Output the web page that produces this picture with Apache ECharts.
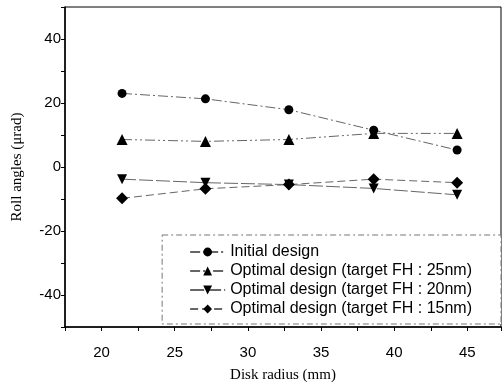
<!DOCTYPE html>
<html>
<head>
<meta charset="utf-8">
<script src="https://cdn.jsdelivr.net/npm/echarts@6/dist/echarts.min.js"></script>
<style>
html, body { margin: 0; padding: 0; background: #fff; }
#chart { width: 502px; height: 385px; }
</style>
</head>
<body>
<div id="chart"></div>
<script>
// disk radius (mm)
var radius = [21.4, 27.1, 32.8, 38.6, 44.3];
var seriesNames = [
    'Initial design',
    'Optimal design (target FH : 25nm)',
    'Optimal design (target FH : 20nm)',
    'Optimal design (target FH : 15nm)'
];
// roll angles (urad)
var initialDesign = [23.0, 21.3, 17.9, 11.5, 5.3];
var optimal25 = [8.6, 8.0, 8.6, 10.5, 10.5];
var optimal20 = [-3.8, -4.9, -5.5, -6.7, -8.7];
var optimal15 = [-9.8, -6.8, -5.5, -3.8, -4.9];

var chart = echarts.init(document.getElementById('chart'));

function pairs(ys) {
    return radius.map(function (x, i) { return [x, ys[i]]; });
}

function makeSeries(name, ys, symbol, size, dash) {
    return {
        name: name,
        type: 'line',
        data: pairs(ys),
        symbol: symbol,
        symbolSize: size,
        itemStyle: { color: '#000' },
        lineStyle: { color: '#666', width: 1, type: dash },
        emphasis: { disabled: true },
        animation: false
    };
}

var option = {
    backgroundColor: '#fff',
    grid: {
        left: 65, right: 1, top: 7, bottom: 58,
        outerBoundsMode: 'none',
        containLabel: false,
        show: true, borderColor: '#000', borderWidth: 1
    },
    legend: {
        right: 1,
        top: 235,
        orient: 'vertical',
        itemWidth: 35,
        itemHeight: 11,
        itemGap: 3,
        padding: [9, 29, 7, 27],
        borderColor: '#777',
        borderWidth: 1,
        borderType: [6, 3, 2, 3],
        backgroundColor: '#fff',
        textStyle: { fontFamily: 'Liberation Sans, Arial, sans-serif', fontSize: 16, color: '#000' },
        data: seriesNames
    },
    xAxis: {
        type: 'value',
        min: 17.5,
        max: 47.3,
        interval: 2.5,
        name: 'Disk radius (mm)',
        nameLocation: 'middle',
        nameGap: 41,
        nameTextStyle: { fontFamily: 'Liberation Serif, Times New Roman, serif', fontSize: 15, color: '#000' },
        axisLine: { show: true, onZero: false, lineStyle: { color: '#000', width: 1.5 } },
        axisTick: { show: true, inside: false, length: 4, lineStyle: { color: '#000' } },
        axisLabel: {
            fontFamily: 'Liberation Sans, Arial, sans-serif', fontSize: 15, color: '#000', margin: 18,
            formatter: function (v) { return v % 5 === 0 ? String(v) : ''; }
        },
        splitLine: { show: false }
    },
    yAxis: {
        type: 'value',
        min: -50,
        max: 50,
        interval: 10,
        name: 'Roll angles (\u03bcrad)',
        nameLocation: 'middle',
        nameGap: 40,
        nameTextStyle: { fontFamily: 'Liberation Serif, Times New Roman, serif', fontSize: 15, color: '#000' },
        axisLine: { show: true, lineStyle: { color: '#000', width: 1.5 } },
        axisTick: { show: true, inside: false, length: 4, lineStyle: { color: '#000' } },
        axisLabel: {
            fontFamily: 'Liberation Sans, Arial, sans-serif', fontSize: 15, color: '#000', margin: 4,
            formatter: function (v) { return (v % 20 === 0 && Math.abs(v) < 50) ? String(v) : ''; }
        },
        splitLine: { show: false }
    },
    series: [
        makeSeries(seriesNames[0], initialDesign, 'circle', 9, [10, 3, 2, 3]),
        makeSeries(seriesNames[1], optimal25, 'triangle', 11, [10, 3, 2, 3, 2, 3]),
        makeSeries(seriesNames[2], optimal20, 'path://M0,0 L10,0 L5,9 Z', 10, [14, 3]),
        makeSeries(seriesNames[3], optimal15, 'diamond', 12, [8, 4])
    ]
};
option && chart.setOption(option);
</script>
</body>
</html>
